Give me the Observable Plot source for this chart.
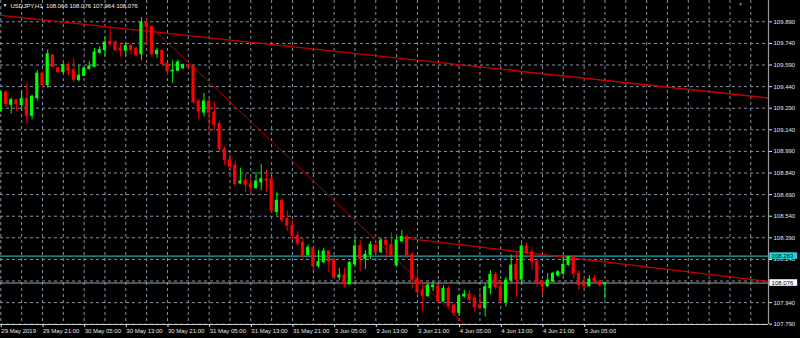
<!DOCTYPE html>
<html>
<head>
<meta charset="utf-8">
<script src="https://cdn.jsdelivr.net/npm/d3@7"></script>
<script src="https://cdn.jsdelivr.net/npm/@observablehq/plot@0.6"></script>
<style>
  html, body { margin: 0; padding: 0; background: #000; }
  #chart { width: 800px; height: 338px; overflow: hidden; }
</style>
</head>
<body>
<div id="chart"></div>
<script>
// ---- Data (USDJPY H1) ----
const symbol = "USDJPY,H1";
const opens = [109.272,109.399,109.313,109.346,109.311,109.353,109.237,109.360,109.530,109.450,
109.656,109.568,109.540,109.589,109.554,109.485,109.515,109.561,109.577,109.675,
109.693,109.750,109.746,109.705,109.690,109.723,109.705,109.665,109.885,109.855,
109.665,109.688,109.600,109.545,109.550,109.568,109.584,109.584,109.336,109.260,
109.336,109.260,109.179,109.005,108.929,108.890,108.767,108.786,108.762,108.735,
108.774,108.793,108.797,108.570,108.647,108.520,108.473,108.404,108.355,108.272,
108.318,108.193,108.221,108.295,108.232,108.115,108.128,108.066,108.205,108.332,
108.244,108.272,108.337,108.290,108.371,108.341,108.198,108.364,108.394,108.271,
108.105,108.024,107.984,108.047,108.054,107.947,108.035,107.919,107.869,107.982,
107.996,107.970,107.919,107.901,108.040,108.132,108.047,107.943,108.093,108.202,
108.100,108.331,108.290,108.225,108.086,108.054,108.086,108.128,108.140,108.202,
108.255,108.140,108.070,108.054,108.105,108.086,108.066];
const highs = [109.410,109.410,109.360,109.350,109.410,109.460,109.380,109.550,109.540,109.695,
109.665,109.575,109.600,109.607,109.635,109.590,109.572,109.614,109.705,109.716,
109.780,109.850,109.758,109.735,109.735,109.735,109.710,109.920,109.908,109.862,
109.707,109.693,109.607,109.619,109.624,109.596,109.590,109.596,109.353,109.392,
109.353,109.330,109.202,109.022,108.970,108.924,108.874,108.832,108.809,108.844,
108.901,108.860,108.809,108.705,108.658,108.577,108.508,108.434,108.383,108.341,
108.325,108.302,108.318,108.302,108.244,108.179,108.175,108.226,108.383,108.371,
108.302,108.364,108.341,108.387,108.378,108.425,108.395,108.441,108.410,108.290,
108.174,108.058,108.070,108.086,108.063,108.058,108.054,107.931,107.994,108.024,
108.024,107.989,108.012,108.070,108.163,108.151,108.093,108.116,108.271,108.290,
108.348,108.355,108.313,108.244,108.093,108.140,108.151,108.163,108.255,108.262,
108.267,108.163,108.105,108.128,108.128,108.093,108.076];
const lows = [109.260,109.295,109.250,109.270,109.270,109.180,109.210,109.340,109.430,109.430,
109.570,109.535,109.530,109.515,109.468,109.473,109.510,109.556,109.572,109.665,
109.646,109.720,109.688,109.646,109.646,109.658,109.650,109.619,109.735,109.642,
109.635,109.589,109.515,109.461,109.543,109.560,109.565,109.318,109.214,109.230,
109.110,109.133,108.982,108.890,108.860,108.744,108.762,108.705,108.698,108.728,
108.716,108.705,108.554,108.543,108.496,108.434,108.374,108.334,108.230,108.267,
108.163,108.179,108.210,108.147,108.110,108.094,108.047,108.064,108.198,108.152,
108.170,108.239,108.286,108.279,108.244,108.256,108.193,108.360,108.244,108.035,
107.989,107.878,107.977,108.017,107.938,107.943,107.901,107.845,107.845,107.973,
107.938,107.873,107.896,107.839,107.994,108.031,107.938,107.908,108.081,107.977,
108.058,108.271,108.163,108.047,107.994,108.047,108.081,108.116,108.128,108.193,
108.105,108.024,108.035,108.047,108.077,108.047,107.964];
const closes = [109.399,109.318,109.346,109.318,109.353,109.237,109.370,109.530,109.450,109.665,
109.577,109.540,109.589,109.550,109.487,109.515,109.566,109.580,109.677,109.693,
109.746,109.735,109.693,109.690,109.720,109.693,109.658,109.885,109.855,109.665,
109.688,109.596,109.545,109.550,109.607,109.589,109.573,109.330,109.267,109.336,
109.260,109.175,109.005,108.929,108.883,108.762,108.781,108.758,108.744,108.781,
108.797,108.788,108.577,108.647,108.512,108.473,108.404,108.350,108.270,108.320,
108.193,108.221,108.295,108.226,108.117,108.128,108.066,108.216,108.330,108.244,
108.272,108.341,108.290,108.371,108.341,108.267,108.371,108.395,108.267,108.100,
108.012,107.984,108.058,108.058,107.947,108.035,107.915,107.869,107.984,107.996,
107.961,107.908,107.903,108.047,108.132,108.047,107.947,108.093,108.197,108.100,
108.329,108.285,108.225,108.077,108.054,108.093,108.140,108.151,108.202,108.255,
108.140,108.063,108.054,108.100,108.086,108.063,108.076];

// time axis labels (bar index -> label)
const timeTickBars = [0, 8, 16, 24, 32, 40, 48, 56, 64, 72, 80, 88, 96, 104, 112];
const timeTickLabels = ["29 May 2019","29 May 21:00","30 May 05:00","30 May 13:00","30 May 21:00",
  "31 May 05:00","31 May 13:00","31 May 21:00","3 Jun 05:00","3 Jun 13:00","3 Jun 21:00",
  "4 Jun 05:00","4 Jun 13:00","4 Jun 21:00","5 Jun 05:00"];
// price axis ticks
const priceTicks = [107.790,107.940,108.090,108.240,108.390,108.540,108.690,108.840,108.990,
  109.140,109.290,109.440,109.590,109.740,109.890];
const hiddenPriceLabels = [108.090];

// horizontal levels
const levelLine = 108.263;   // cyan horizontal line
const bidPrice = 108.076;    // current bid

// trend lines: [bar, price] pairs
const trendLong  = [[0, 109.934], [147.4, 109.361]];
const trendSteep = [[29.25, 109.841], [89.1, 107.788]];
const trendLow   = [[76, 108.395], [147.4, 108.087]];

// ---- Build ----
const candles = opens.map((o, i) => ({i, open: o, high: highs[i], low: lows[i], close: closes[i]}));
const ups = candles.filter(d => d.close >= d.open);
const downs = candles.filter(d => d.close < d.open);
const labelOf = new Map(timeTickBars.map((b, k) => [b, timeTickLabels[k]]));
const toPts = arr => arr.map(([b, p]) => ({b, p}));

const xMax = 147.4, yMin = 107.788, yMax = 110.038;
const GREEN = "#00ff00", RED = "#ff0000";
const fmt = d3.format(".3f");
const header = `${symbol}  ${fmt(opens[opens.length-1])} ${fmt(highs[highs.length-1])} ${fmt(lows[lows.length-1])} ${fmt(closes[closes.length-1])}`;

const chart = Plot.plot({
  width: 800,
  height: 338,
  marginLeft: 0,
  marginRight: 32,
  marginTop: 0,
  marginBottom: 14,
  x: {domain: [-0.06, xMax]},
  y: {domain: [yMin, yMax]},
  style: {background: "#000", color: "#e6e6e6", fontFamily: "'Liberation Sans', Arial, sans-serif", fontSize: "6px"},
  marks: [
    Plot.gridY(priceTicks, {stroke: "#8593a1", strokeOpacity: 1, strokeDasharray: "3,3"}),
    Plot.gridX(d3.range(0, 148, 4), {stroke: "#8593a1", strokeOpacity: 1, strokeDasharray: "3,3"}),
    // horizontal level lines
    Plot.ruleY([levelLine], {x1: -0.06, x2: xMax, stroke: "#1fd8e0", strokeWidth: 1}),
    Plot.ruleY([bidPrice], {x1: -0.06, x2: xMax, stroke: "#9aa4ae", strokeWidth: 1}),
    // trend lines
    Plot.line(toPts(trendLong), {x: "b", y: "p", stroke: "#c80000", strokeWidth: 1.3}),
    Plot.line(toPts(trendLow), {x: "b", y: "p", stroke: "#c80000", strokeWidth: 1.3}),
    Plot.line(toPts(trendSteep), {x: "b", y: "p", stroke: "#b00000", strokeWidth: 1}),
    // wicks
    Plot.ruleX(ups, {x: "i", y1: "low", y2: "high", stroke: GREEN, strokeWidth: 1}),
    Plot.ruleX(downs, {x: "i", y1: "low", y2: "high", stroke: RED, strokeWidth: 1}),
    // bodies
    Plot.rect(ups, {x1: d => d.i - 0.3, x2: d => d.i + 0.3, y1: "open", y2: "close", fill: GREEN, insetTop: -0.5, insetBottom: -0.5}),
    Plot.rect(downs, {x1: d => d.i - 0.3, x2: d => d.i + 0.3, y1: "open", y2: "close", fill: RED, insetTop: -0.5, insetBottom: -0.5}),
    // frame lines
    Plot.ruleX([xMax], {stroke: "#9a9a9a", strokeWidth: 1.2}),
    Plot.ruleY([yMin], {x1: -0.06, x2: xMax, stroke: "#d0d0d0", strokeWidth: 1}),
    // axes
    Plot.axisY(priceTicks.filter(t => !hiddenPriceLabels.includes(t)), {anchor: "right", tickSize: 3, tickPadding: 2, tickFormat: fmt, fontSize: 6}),
    Plot.axisX(timeTickBars, {anchor: "bottom", tickSize: 3, tickPadding: 1, textAnchor: "start", dx: 0.5, tickFormat: b => labelOf.get(b), fontSize: 6}),
    // price label boxes on the right
    Plot.rect([levelLine], {x1: xMax + 0.25, x2: xMax + 5.6, y1: d => d, y2: d => d, fill: "#1fd8e0", insetTop: -3.3, insetBottom: -3.3}),
    Plot.text([levelLine], {x: xMax + 0.6, y: d => d, text: d => fmt(d), fill: "#000", textAnchor: "start", fontSize: 6}),
    Plot.rect([bidPrice], {x1: xMax + 0.25, x2: xMax + 5.6, y1: d => d, y2: d => d, fill: "#ffffff", insetTop: -3.3, insetBottom: -3.3}),
    Plot.text([bidPrice], {x: xMax + 0.6, y: d => d, text: d => fmt(d), fill: "#000", textAnchor: "start", fontSize: 6}),
    // header
    Plot.text(["▼"], {frameAnchor: "top-left", dx: 2, dy: 3, fill: "#e6e6e6", fontSize: 5, textAnchor: "start", lineAnchor: "top"}),
    Plot.text([header], {frameAnchor: "top-left", dx: 10, dy: 3, fill: "#f0f0f0", fontSize: 6, textAnchor: "start", lineAnchor: "top"}),
    Plot.text(["▼"], {x: 142, y: yMax, dy: 2, fill: "#8a8a8a", fontSize: 5, lineAnchor: "top"})
  ]
});
document.getElementById("chart").appendChild(chart);
</script>
</body>
</html>
